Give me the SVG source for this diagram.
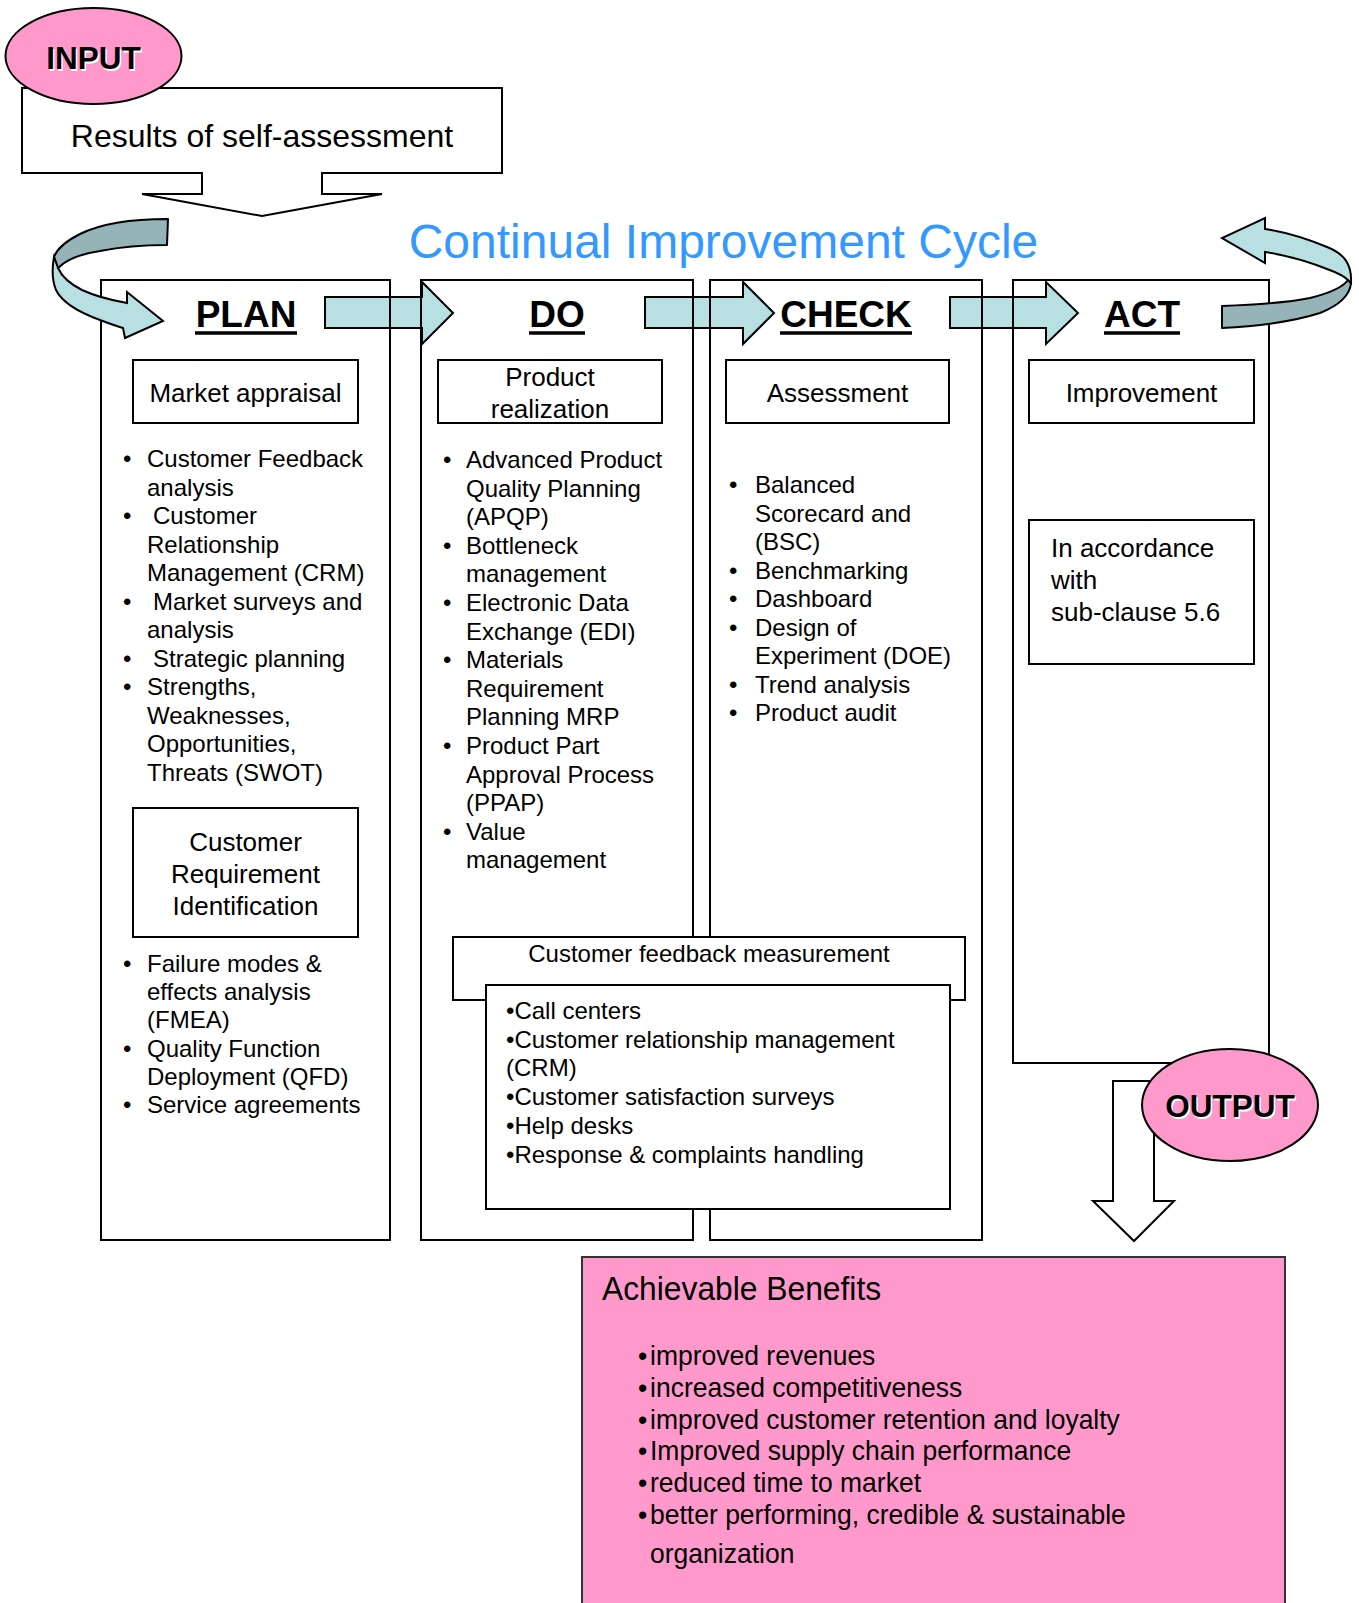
<svg xmlns="http://www.w3.org/2000/svg" width="1359" height="1603" viewBox="0 0 1359 1603">
<style>
text { font-family: "Liberation Sans", Arial, sans-serif; fill: #000; }
.s24 { font-size: 24px; }
.s26 { font-size: 26px; }
.mid { text-anchor: middle; }
.box { fill: #fff; stroke: #000; stroke-width: 2; }
.col { fill: none; stroke: #000; stroke-width: 2; }
.arr { fill: #b8e0e3; stroke: #000; stroke-width: 2; stroke-linejoin: miter; }
.dark { fill: #96b4b7; stroke: #000; stroke-width: 2; stroke-linejoin: round; }
.hdr { font-size: 37px; font-weight: bold; text-anchor: middle; }
.ul { stroke: #000; stroke-width: 3.5; }
.pink { fill: #ff99cc; stroke: #000; stroke-width: 2; }
.io { font-size: 31.5px; font-weight: bold; text-anchor: middle; }
.shadow { fill: #fff; }
.ben { font-size: 28.5px; }
</style>
<rect x="0" y="0" width="1359" height="1603" fill="#fff"/>

<g id="connectors">
  <polygon class="arr" points="325,297 422,297 422,282 453,313 422,344 422,328 325,328"/>
  <polygon class="arr" points="645,297 743,297 743,282 774,313 743,344 743,328 645,328"/>
  <polygon class="arr" points="950,297 1046,297 1046,282 1078,313 1046,344 1046,328 950,328"/>
</g>

<g id="plan">
  <rect class="col" x="101" y="280" width="289" height="960"/>
  <text class="hdr" x="246" y="327">PLAN</text>
  <line class="ul" x1="195" y1="333" x2="297" y2="333"/>
  <g id="market-appraisal">
    <rect class="box" x="133" y="360" width="225" height="63"/>
    <text class="s26 mid" x="245.5" y="402">Market appraisal</text>
  </g>
  <g class="s24">
    <text class="s24" x="123" y="467">•</text><text class="s24" x="147" y="467">Customer Feedback</text>
    <text class="s24" x="147" y="495.5">analysis</text>
    <text class="s24" x="123" y="524">•</text><text class="s24" x="153" y="524">Customer</text>
    <text class="s24" x="147" y="552.5">Relationship</text>
    <text class="s24" x="147" y="581">Management (CRM)</text>
    <text class="s24" x="123" y="609.5">•</text><text class="s24" x="153" y="609.5">Market surveys and</text>
    <text class="s24" x="147" y="638">analysis</text>
    <text class="s24" x="123" y="666.5">•</text><text class="s24" x="153" y="666.5">Strategic planning</text>
    <text class="s24" x="123" y="695">•</text><text class="s24" x="147" y="695">Strengths,</text>
    <text class="s24" x="147" y="723.5">Weaknesses,</text>
    <text class="s24" x="147" y="752">Opportunities,</text>
    <text class="s24" x="147" y="780.5">Threats (SWOT)</text>
  </g>
  <g id="customer-requirement">
    <rect class="box" x="133" y="808" width="225" height="129"/>
    <text class="s26 mid" x="245.5" y="851">Customer</text>
    <text class="s26 mid" x="245.5" y="883">Requirement</text>
    <text class="s26 mid" x="245.5" y="915">Identification</text>
  </g>
  <text class="s24" x="123" y="972">•</text><text class="s24" x="147" y="972">Failure modes &amp;</text>
  <text class="s24" x="147" y="1000">effects analysis</text>
  <text class="s24" x="147" y="1028">(FMEA)</text>
  <text class="s24" x="123" y="1057">•</text><text class="s24" x="147" y="1057">Quality Function</text>
  <text class="s24" x="147" y="1085">Deployment (QFD)</text>
  <text class="s24" x="123" y="1113">•</text><text class="s24" x="147" y="1113">Service agreements</text>
</g>

<g id="do">
  <rect class="col" x="421" y="280" width="272" height="960"/>
  <text class="hdr" x="557" y="327">DO</text>
  <line class="ul" x1="529" y1="333" x2="585" y2="333"/>
  <g id="product-realization">
    <rect class="box" x="438" y="360" width="224" height="63"/>
    <text class="s26 mid" x="550" y="386">Product</text>
    <text class="s26 mid" x="550" y="418">realization</text>
  </g>
  <text class="s24" x="443" y="468">•</text><text class="s24" x="466" y="468">Advanced Product</text>
  <text class="s24" x="466" y="496.6">Quality Planning</text>
  <text class="s24" x="466" y="525.2">(APQP)</text>
  <text class="s24" x="443" y="553.8">•</text><text class="s24" x="466" y="553.8">Bottleneck</text>
  <text class="s24" x="466" y="582.4">management</text>
  <text class="s24" x="443" y="611">•</text><text class="s24" x="466" y="611">Electronic Data</text>
  <text class="s24" x="466" y="639.6">Exchange (EDI)</text>
  <text class="s24" x="443" y="668.2">•</text><text class="s24" x="466" y="668.2">Materials</text>
  <text class="s24" x="466" y="696.8">Requirement</text>
  <text class="s24" x="466" y="725.4">Planning MRP</text>
  <text class="s24" x="443" y="754">•</text><text class="s24" x="466" y="754">Product Part</text>
  <text class="s24" x="466" y="782.6">Approval Process</text>
  <text class="s24" x="466" y="811.2">(PPAP)</text>
  <text class="s24" x="443" y="839.8">•</text><text class="s24" x="466" y="839.8">Value</text>
  <text class="s24" x="466" y="868.4">management</text>
</g>

<g id="check">
  <rect class="col" x="710" y="280" width="272" height="960"/>
  <text class="hdr" x="846" y="327">CHECK</text>
  <line class="ul" x1="780" y1="333" x2="912" y2="333"/>
  <g id="assessment">
    <rect class="box" x="726" y="360" width="223" height="63"/>
    <text class="s26 mid" x="837.5" y="402">Assessment</text>
  </g>
  <text class="s24" x="729" y="493">•</text><text class="s24" x="755" y="493">Balanced</text>
  <text class="s24" x="755" y="521.5">Scorecard and</text>
  <text class="s24" x="755" y="550">(BSC)</text>
  <text class="s24" x="729" y="578.5">•</text><text class="s24" x="755" y="578.5">Benchmarking</text>
  <text class="s24" x="729" y="607">•</text><text class="s24" x="755" y="607">Dashboard</text>
  <text class="s24" x="729" y="635.5">•</text><text class="s24" x="755" y="635.5">Design of</text>
  <text class="s24" x="755" y="664">Experiment (DOE)</text>
  <text class="s24" x="729" y="692.5">•</text><text class="s24" x="755" y="692.5">Trend analysis</text>
  <text class="s24" x="729" y="721">•</text><text class="s24" x="755" y="721">Product audit</text>
</g>

<g id="act">
  <rect class="col" x="1013" y="280" width="256" height="783"/>
  <text class="hdr" x="1142" y="327">ACT</text>
  <line class="ul" x1="1104" y1="333" x2="1180" y2="333"/>
  <g id="improvement">
    <rect class="box" x="1029" y="360" width="225" height="63"/>
    <text class="s26 mid" x="1141.5" y="402">Improvement</text>
  </g>
  <g id="accordance">
    <rect class="box" x="1029" y="520" width="225" height="144"/>
    <text class="s26" x="1051" y="557">In accordance</text>
    <text class="s26" x="1051" y="589">with</text>
    <text class="s26" x="1051" y="621">sub-clause 5.6</text>
  </g>
</g>

<g id="title">
  <text x="723.5" y="258" style="font-size:48px; fill:#3399ff; text-anchor:middle;">Continual Improvement Cycle</text>
</g>

<g id="left-curl">
  <path class="dark" d="M168,219 C130,219 100,224 80,234 C66,241 57,249 54,257 L58,268 C66,260 80,254 100,251 C120,247 145,245 167,245 Z"/>
  <path class="arr" d="M54,257 C52,268 52,280 56,290 C62,302 78,312 100,320 C108,323 116,326 123,328 L125,338 L163,321 L127,292 L127,303 C110,300 95,296 82,290 C70,284 62,277 58,268 Z"/>
</g>

<g id="right-curl">
  <path class="dark" d="M1222,306 C1250,305 1285,303 1310,298 C1330,293 1343,287 1348,280 L1351,283 C1350,295 1340,305 1320,313 C1295,321 1260,326 1222,328 Z"/>
  <path class="arr" d="M1351,283 C1352,265 1345,254 1327,247 C1310,240 1290,233 1265,229 L1265,218 L1222,238 L1265,263 L1265,252 C1290,256 1312,263 1327,269 C1338,273 1345,277 1348,280 Z"/>
</g>

<g id="feedback">
  <rect class="box" x="453" y="937" width="512" height="63"/>
  <text class="s24 mid" x="709" y="962">Customer feedback measurement</text>
  <rect class="box" x="486" y="985" width="464" height="224"/>
  <text class="s24" x="506" y="1019">•Call centers</text>
  <text class="s24" x="506" y="1047.7">•Customer relationship management</text>
  <text class="s24" x="506" y="1076.4">(CRM)</text>
  <text class="s24" x="506" y="1105.1">•Customer satisfaction surveys</text>
  <text class="s24" x="506" y="1133.8">•Help desks</text>
  <text class="s24" x="506" y="1162.5">•Response &amp; complaints handling</text>
</g>

<g id="output-arrow">
  <polygon class="box" points="1113,1081 1154,1081 1154,1201 1174,1201 1134,1241 1093,1201 1113,1201"/>
</g>

<g id="output">
  <ellipse class="pink" cx="1230" cy="1105" rx="88" ry="56"/>
  <text class="io shadow" x="1231.5" y="1118.5">OUTPUT</text>
  <text class="io" x="1230" y="1117">OUTPUT</text>
</g>

<g id="benefits">
  <rect x="582" y="1257" width="703" height="360" fill="#ff99cc" stroke="#333" stroke-width="2"/>
  <g transform="translate(602,0) scale(0.935,1)">
    <text x="0" y="1300" style="font-size:34px;">Achievable Benefits</text>
  </g>
  <g transform="translate(650,0) scale(0.93,1)">
    <text class="ben" x="-13" y="1365">•</text><text class="ben" x="0" y="1365">improved revenues</text>
    <text class="ben" x="-13" y="1397">•</text><text class="ben" x="0" y="1397">increased competitiveness</text>
    <text class="ben" x="-13" y="1429">•</text><text class="ben" x="0" y="1429">improved customer retention and loyalty</text>
    <text class="ben" x="-13" y="1460">•</text><text class="ben" x="0" y="1460">Improved supply chain performance</text>
    <text class="ben" x="-13" y="1492">•</text><text class="ben" x="0" y="1492">reduced time to market</text>
    <text class="ben" x="-13" y="1524">•</text><text class="ben" x="0" y="1524">better performing, credible &amp; sustainable</text>
    <text class="ben" x="0" y="1563">organization</text>
  </g>
</g>

<g id="results">
  <polygon class="box" points="22,88 502,88 502,173 322,173 322,194 382,194 262,216 142,194 202,194 202,173 22,173"/>
  <text x="262" y="147" style="font-size:32px; text-anchor:middle;">Results of self-assessment</text>
</g>

<g id="input">
  <ellipse class="pink" cx="93.5" cy="56" rx="88" ry="48"/>
  <text class="io shadow" x="95" y="70.5">INPUT</text>
  <text class="io" x="93.5" y="69">INPUT</text>
</g>
</svg>
